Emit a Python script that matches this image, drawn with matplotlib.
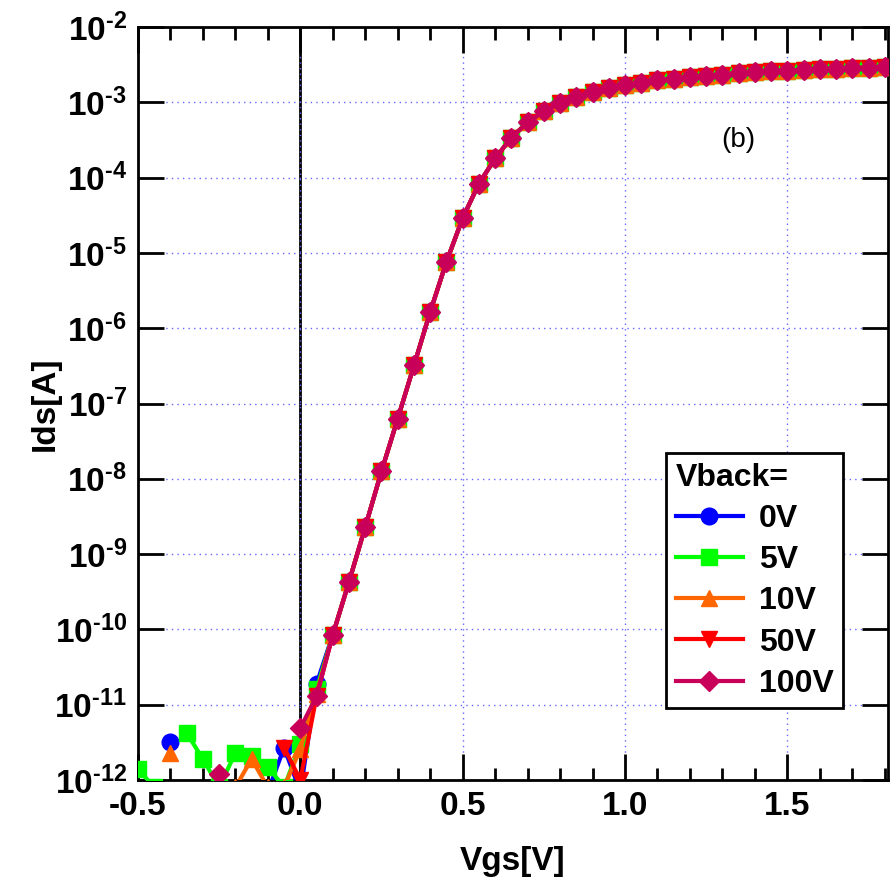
# -*- coding: utf-8 -*-
import numpy as np
import matplotlib
matplotlib.use("Agg")
import matplotlib.pyplot as plt
from matplotlib.ticker import MultipleLocator, FixedLocator, FuncFormatter

plt.rcParams['font.family'] = ['Liberation Sans', 'DejaVu Sans']
plt.rcParams['font.weight'] = 'bold'
plt.rcParams['axes.unicode_minus'] = False
plt.rcParams['mathtext.fontset'] = 'custom'
plt.rcParams['mathtext.rm'] = 'Liberation Sans:bold'
plt.rcParams['mathtext.bf'] = 'Liberation Sans:bold'
plt.rcParams['mathtext.default'] = 'rm'

##################################
# data      #
##################################
# off-state region, Vgs = -0.5 ... 0.05 V (nan = not shown)
vgs_off = [-0.5, -0.45, -0.4, -0.35, -0.3, -0.25, -0.2, -0.15, -0.1, -0.05, 0.0, 0.05]
ids_0V_off = [np.nan, np.nan, 3.2e-12, np.nan, np.nan, np.nan, np.nan, np.nan, 7e-13, 2.7e-12, 7e-13, 1.9e-11]
ids_5V_off = [1.4e-12, 8e-13, np.nan, 4.2e-12, 1.9e-12, 8e-13, 2.3e-12, 2.1e-12, 1.5e-12, 8e-13, 3.0e-12, 1.6e-11]
ids_10V_off = [np.nan, np.nan, 2.3e-12, np.nan, np.nan, np.nan, 8e-13, 1.9e-12, 8e-13, 8e-13, 2.6e-12, 1.4e-11]
ids_50V_off = [np.nan, np.nan, np.nan, np.nan, np.nan, np.nan, np.nan, np.nan, np.nan, 2.7e-12, 1.0e-12, 1.3e-11]
ids_100V_off = [np.nan, np.nan, np.nan, np.nan, np.nan, 1.2e-12, np.nan, np.nan, np.nan, np.nan, 4.9e-12, 1.3e-11]

# on-state region, Vgs = 0.1 ... 1.8 V (all back-gate biases overlap)
vgs_on = [0.1, 0.15, 0.2, 0.25, 0.3, 0.35, 0.4, 0.45, 0.5, 0.55, 0.6, 0.65, 0.7, 0.75,
          0.8, 0.85, 0.9, 0.95, 1.0, 1.05, 1.1, 1.15, 1.2, 1.25, 1.3, 1.35, 1.4, 1.45,
          1.5, 1.55, 1.6, 1.65, 1.7, 1.75, 1.8]
ids_on = [8.5e-11, 4.3e-10, 2.3e-9, 1.26e-8, 6.3e-8, 3.2e-7, 1.65e-6, 7.6e-6, 2.9e-5, 8.3e-5,
          1.8e-4, 3.4e-4, 5.4e-4, 7.6e-4, 9.7e-4, 1.18e-3, 1.37e-3, 1.55e-3, 1.7e-3, 1.82e-3,
          1.95e-3, 2.06e-3, 2.16e-3, 2.25e-3, 2.34e-3, 2.42e-3, 2.5e-3, 2.57e-3, 2.63e-3,
          2.69e-3, 2.74e-3, 2.79e-3, 2.84e-3, 2.88e-3, 2.92e-3]

labels = ['0V', '5V', '10V', '50V', '100V']
off_data = [ids_0V_off, ids_5V_off, ids_10V_off, ids_50V_off, ids_100V_off]
colors = ['#0000FF', '#00FF00', '#FF6600', '#FF0000', '#C8005A']
markers = ['o', 's', '^', 'v', 'D']
msizes = [12, 12, 12, 12, 10]

fig = plt.figure(figsize=(8.92, 8.83), dpi=100)
ax = fig.add_axes([0.1547, 0.1166, 0.8408, 0.8528])

ax.axvline(0.0, color='black', lw=2, zorder=1)

for lab, off, c, m, ms in zip(labels, off_data, colors, markers, msizes):
    x = np.array(vgs_off + vgs_on)
    y = np.array(off + ids_on)
    ax.plot(x, y, color=c, marker=m, ms=ms, lw=3, label=lab, zorder=3)

ax.set_yscale('log')
ax.set_xlim(-0.5, 1.81)
ax.set_ylim(1e-12, 1e-2)


def exp_label(v, p):
    k = int(round(np.log10(v)))
    return r'$10^{\text{-}%d}$' % abs(k)


ax.xaxis.set_major_locator(MultipleLocator(0.5))
ax.xaxis.set_minor_locator(MultipleLocator(0.1))
ax.yaxis.set_major_locator(FixedLocator([10.0**k for k in range(-12, -1)]))
ax.yaxis.set_minor_locator(FixedLocator([]))
ax.yaxis.set_major_formatter(FuncFormatter(exp_label))
ax.xaxis.set_major_formatter(FuncFormatter(lambda v, p: '%.1f' % v))

ax.tick_params(which='both', direction='in', top=True, right=True, width=2)
ax.tick_params(which='major', length=19, labelsize=24, pad=8)
ax.tick_params(which='minor', length=9)
for t in ax.get_xticklabels() + ax.get_yticklabels():
    t.set_fontweight('bold')

ax.grid(True, which='major', color='#6666FF', ls=(0, (1, 3)), lw=1)
for s in ax.spines.values():
    s.set_linewidth(2)

ax.set_xlabel('Vgs[V]', fontsize=24, fontweight='bold', labelpad=17)
ax.set_ylabel('Ids[A]', fontsize=24, fontweight='bold', labelpad=-5)

ax.text(1.35, 3.2e-4, '(b)', fontsize=20, fontweight='normal', ha='center', va='center')

leg = ax.legend(title='Vback=', loc='upper left', bbox_to_anchor=(0.704, 0.434),
                borderaxespad=0, fontsize=23, title_fontsize=23, alignment='left',
                frameon=True, fancybox=False, edgecolor='black', framealpha=1,
                handlelength=2.1, labelspacing=0.35, borderpad=0.3, handletextpad=0.5)
leg.get_frame().set_linewidth(2)
leg.get_title().set_fontweight('bold')
for t in leg.get_texts():
    t.set_fontweight('bold')

fig.savefig('out.png', dpi=100)
